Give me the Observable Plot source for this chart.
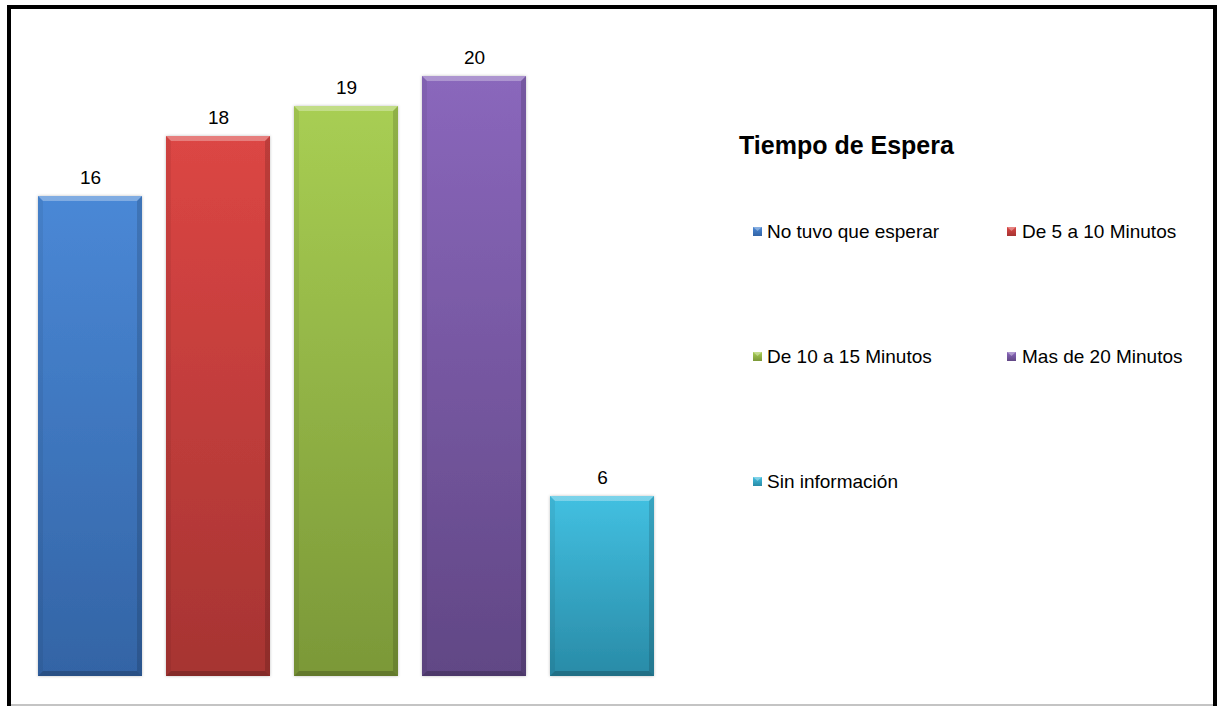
<!DOCTYPE html>
<html>
<head>
<meta charset="utf-8">
<script src="https://cdn.jsdelivr.net/npm/d3@7"></script>
<script src="https://cdn.jsdelivr.net/npm/@observablehq/plot@0.6"></script>
<style>
  html, body { margin: 0; padding: 0; background: #fff; }
  svg { display: block; }
</style>
</head>
<body>
<div id="chart"></div>
<script>
const categories = ["No tuvo que esperar", "De 5 a 10 Minutos", "De 10 a 15 Minutos", "Mas de 20 Minutos", "Sin información"];
const values = [16, 18, 19, 20, 6];
const legendTitle = "Tiempo de Espera";
const topColors = ["#4a88d6", "#dc4644", "#a8ce53", "#8a67bc", "#42c0e1"];
const bottomColors = ["#3364a5", "#a63432", "#7b9838", "#614785", "#298ba7"];

const data = categories.map((c, i) => ({category: c, value: values[i]}));
const gradIds = categories.map((c, i) => `grad${i}`);

const FONT = "'Liberation Sans', Arial, Helvetica, sans-serif";

const chart = Plot.plot({
  width: 1222,
  height: 706,
  margin: 0,
  style: {fontFamily: FONT, fontSize: "19px", background: "#fff", color: "#000"},
  x: {type: "band", domain: categories, range: [36, 655], paddingInner: 0.19, paddingOuter: 0, axis: null},
  y: {domain: [0, 20], range: [676, 76], axis: null},
  color: {type: "ordinal", domain: categories, range: gradIds.map(id => `url(#${id})`)},
  marks: [
    Plot.barY(data, {x: "category", y: "value", fill: "category", className: "bars"}),
    Plot.text(data, {x: "category", y: "value", text: d => String(d.value), lineAnchor: "bottom", dy: -13, fontSize: 19, fill: "#000"})
  ]
});

document.getElementById("chart").appendChild(chart);

const svg = d3.select(chart);
const defs = svg.insert("defs", ":first-child");
gradIds.forEach((id, i) => {
  const g = defs.append("linearGradient").attr("id", id).attr("x1", 0).attr("y1", 0).attr("x2", 0).attr("y2", 1);
  g.append("stop").attr("offset", "0%").attr("stop-color", topColors[i]);
  g.append("stop").attr("offset", "100%").attr("stop-color", bottomColors[i]);
});
const f = defs.append("filter").attr("id", "shadow").attr("x", "-10%").attr("y", "-10%").attr("width", "120%").attr("height", "120%");
f.append("feDropShadow").attr("dx", 0).attr("dy", 0).attr("stdDeviation", 1.5).attr("flood-color", "#000").attr("flood-opacity", 0.25);

// bevel overlay on each bar, computed from rendered rects
svg.selectAll("g.bars rect").each(function () {
  const r = d3.select(this);
  r.attr("filter", "url(#shadow)");
  const x = +r.attr("x"), y = +r.attr("y"), w = +r.attr("width"), h = +r.attr("height");
  const b = 5;
  const parent = d3.select(this.parentNode);
  const poly = (pts, fill, op) => parent.append("polygon").attr("points", pts.map(p => p.join(",")).join(" ")).attr("fill", fill).attr("fill-opacity", op);
  poly([[x, y], [x + w, y], [x + w - b, y + b], [x + b, y + b]], "#fff", 0.3);
  poly([[x, y], [x + b, y + b], [x + b, y + h - b], [x, y + h]], "#000", 0.06);
  poly([[x + w, y], [x + w - b, y + b], [x + w - b, y + h - b], [x + w, y + h]], "#000", 0.14);
  poly([[x, y + h], [x + b, y + h - b], [x + w - b, y + h - b], [x + w, y + h]], "#000", 0.2);
});

// legend
const leg = svg.append("g").attr("font-family", FONT).attr("text-anchor", "start");
leg.append("text").attr("x", 739).attr("y", 154).attr("font-size", 25).attr("font-weight", "bold").attr("fill", "#000").attr("text-anchor", "start").text(legendTitle);
const cols = [{sx: 753, tx: 767}, {sx: 1007, tx: 1022}];
const rowBase = [238, 363, 488];
categories.forEach((c, i) => {
  const col = cols[i % 2];
  const yb = rowBase[Math.floor(i / 2)];
  leg.append("rect").attr("x", col.sx).attr("y", yb - 11).attr("width", 9).attr("height", 9).attr("fill", `url(#${gradIds[i]})`);
  leg.append("polygon").attr("points", `${col.sx},${yb - 11} ${col.sx + 9},${yb - 11} ${col.sx + 4.5},${yb - 7}`).attr("fill", "#fff").attr("fill-opacity", 0.35);
  leg.append("text").attr("x", col.tx).attr("y", yb).attr("font-size", 19).attr("fill", "#000").attr("text-anchor", "start").text(c);
});

// outer border
svg.append("line").attr("x1", 9).attr("x2", 1215).attr("y1", 705).attr("y2", 705).attr("stroke", "#b0b0b0").attr("stroke-width", 1.5);
svg.append("rect").attr("x", 9).attr("y", 7).attr("width", 1206).attr("height", 702).attr("fill", "none").attr("stroke", "#000").attr("stroke-width", 4);
</script>
</body>
</html>
